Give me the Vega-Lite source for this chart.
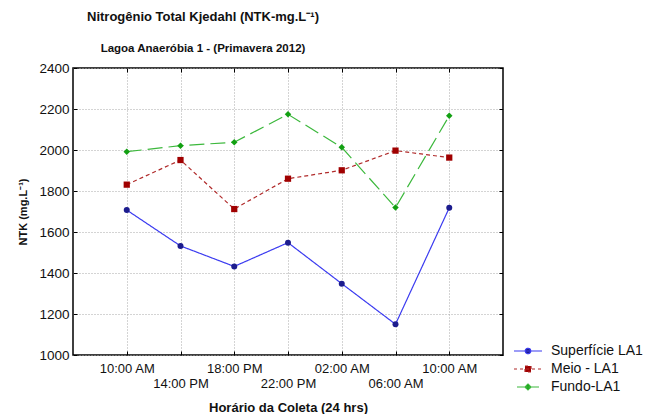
{
  "$schema": "https://vega.github.io/schema/vega-lite/v6.json",
  "width": 430,
  "height": 287,
  "autosize": {"type": "none"},
  "padding": {"left": 73, "top": 68, "right": 157, "bottom": 59},
  "background": "#ffffff",
  "config": {
    "font": "Liberation Sans",
    "view": {"stroke": "#000000", "strokeWidth": 1.5},
    "axis": {
      "labelColor": "#111111",
      "titleColor": "#111111",
      "labelFont": "Liberation Sans",
      "titleFont": "Liberation Sans",
      "gridColor": "#a8a8a8",
      "gridDash": [1, 2],
      "gridWidth": 1,
      "tickColor": "#000000",
      "domain": false
    }
  },
  "title": {
    "text": "Nitrogênio Total Kjedahl (NTK-mg.L⁻¹)",
    "subtitle": "Lagoa Anaeróbia 1 - (Primavera 2012)",
    "anchor": "middle",
    "dx": -85,
    "font": "Liberation Sans",
    "fontSize": 13,
    "fontWeight": "bold",
    "color": "#111111",
    "subtitleFont": "Liberation Sans",
    "subtitleFontSize": 11.5,
    "subtitleFontWeight": "bold",
    "subtitleColor": "#111111",
    "subtitlePadding": 19,
    "offset": 7
  },
  "data": {
    "values": [
      {"serie": "Superfície LA1", "ordem": 0, "hora": "10:00 AM", "ntk": 1707},
      {"serie": "Superfície LA1", "ordem": 1, "hora": "14:00 PM", "ntk": 1532},
      {"serie": "Superfície LA1", "ordem": 2, "hora": "18:00 PM", "ntk": 1432},
      {"serie": "Superfície LA1", "ordem": 3, "hora": "22:00 PM", "ntk": 1548},
      {"serie": "Superfície LA1", "ordem": 4, "hora": "02:00 AM", "ntk": 1348},
      {"serie": "Superfície LA1", "ordem": 5, "hora": "06:00 AM", "ntk": 1150},
      {"serie": "Superfície LA1", "ordem": 6, "hora": "10:00 AM", "ntk": 1718},
      {"serie": "Meio - LA1", "ordem": 0, "hora": "10:00 AM", "ntk": 1831},
      {"serie": "Meio - LA1", "ordem": 1, "hora": "14:00 PM", "ntk": 1951},
      {"serie": "Meio - LA1", "ordem": 2, "hora": "18:00 PM", "ntk": 1712},
      {"serie": "Meio - LA1", "ordem": 3, "hora": "22:00 PM", "ntk": 1860},
      {"serie": "Meio - LA1", "ordem": 4, "hora": "02:00 AM", "ntk": 1901},
      {"serie": "Meio - LA1", "ordem": 5, "hora": "06:00 AM", "ntk": 1997},
      {"serie": "Meio - LA1", "ordem": 6, "hora": "10:00 AM", "ntk": 1963},
      {"serie": "Fundo-LA1", "ordem": 0, "hora": "10:00 AM", "ntk": 1992},
      {"serie": "Fundo-LA1", "ordem": 1, "hora": "14:00 PM", "ntk": 2021},
      {"serie": "Fundo-LA1", "ordem": 2, "hora": "18:00 PM", "ntk": 2038},
      {"serie": "Fundo-LA1", "ordem": 3, "hora": "22:00 PM", "ntk": 2174},
      {"serie": "Fundo-LA1", "ordem": 4, "hora": "02:00 AM", "ntk": 2013},
      {"serie": "Fundo-LA1", "ordem": 5, "hora": "06:00 AM", "ntk": 1719},
      {"serie": "Fundo-LA1", "ordem": 6, "hora": "10:00 AM", "ntk": 2167}
    ]
  },
  "layer": [
    {
      "mark": {"type": "line", "strokeWidth": 1.2},
      "encoding": {
        "x": {
          "field": "ordem",
          "type": "ordinal",
          "scale": {"type": "point", "padding": 1},
          "axis": {
            "orient": "bottom",
            "title": "Horário da Coleta (24 hrs)",
            "titleFontSize": 13,
            "titleFontWeight": "bold",
            "titlePadding": 11,
            "labelAngle": 0,
            "labelFontSize": 13,
            "labelLineHeight": 15,
            "labelPadding": 11,
            "labelExpr": "+datum.value % 2 == 0 ? ['10:00 AM','14:00 PM','18:00 PM','22:00 PM','02:00 AM','06:00 AM','10:00 AM'][+datum.value] : ['', ['10:00 AM','14:00 PM','18:00 PM','22:00 PM','02:00 AM','06:00 AM','10:00 AM'][+datum.value]]",
            "grid": true,
            "ticks": true,
            "tickSize": -4
          }
        },
        "y": {
          "field": "ntk",
          "type": "quantitative",
          "scale": {"domain": [1000, 2400], "nice": false, "zero": false},
          "axis": {
            "orient": "left",
            "title": "NTK (mg.L⁻¹)",
            "titleFontSize": 11,
            "titleFontWeight": "bold",
            "titlePadding": 10,
            "values": [1000, 1200, 1400, 1600, 1800, 2000, 2200, 2400],
            "format": "d",
            "labelFontSize": 13.5,
            "labelPadding": 8,
            "grid": true,
            "ticks": true,
            "tickSize": -4
          }
        },
        "color": {
          "field": "serie",
          "type": "nominal",
          "scale": {
            "domain": ["Superfície LA1", "Meio - LA1", "Fundo-LA1"],
            "range": ["#3b3bf0", "#b02a2a", "#3cb83c"]
          },
          "legend": {
            "title": null,
            "orient": "none",
            "legendX": 448,
            "legendY": 276,
            "padding": 0,
            "labelFont": "Liberation Sans",
            "labelFontSize": 14,
            "labelColor": "#111111",
            "symbolSize": 100,
            "labelOffset": 16,
            "rowPadding": 4,
            "symbolStrokeWidth": 1.2,
            "encode": {
              "symbols": {
                "update": {
                  "shape": {"signal": "datum.value === 'Superfície LA1' ? 'M-2.8,0H2.8M0.55,0A0.55,0.55 0 1,1 -0.55,0A0.55,0.55 0 1,1 0.55,0Z' : datum.value === 'Meio - LA1' ? 'M-2.8,0H2.8M-0.6,-0.6H0.6V0.6H-0.6Z' : 'M-2.2,0H2.2M0,-0.6L0.6,0L0,0.6L-0.6,0Z'"},
                  "fill": {"signal": "datum.value === 'Superfície LA1' ? '#1c1c8e' : datum.value === 'Meio - LA1' ? '#a00000' : '#12a012'"},
                  "fillOpacity": {"value": 1},
                  "stroke": {"signal": "datum.value === 'Superfície LA1' ? '#3b3bf0' : datum.value === 'Meio - LA1' ? '#b02a2a' : '#3cb83c'"},
                  "strokeDash": {"signal": "datum.value === 'Meio - LA1' ? [3, 3] : [1, 0]"}
                }
              }
            }
          }
        },
        "strokeDash": {
          "field": "serie",
          "type": "nominal",
          "scale": {
            "domain": ["Superfície LA1", "Meio - LA1", "Fundo-LA1"],
            "range": [[1, 0], [4, 3], [15, 6]]
          },
          "legend": null
        }
      }
    },
    {
      "mark": {"type": "point", "filled": true, "opacity": 1},
      "encoding": {
        "x": {
          "field": "ordem",
          "type": "ordinal",
          "axis": {"orient": "top", "title": null, "labels": false, "grid": false, "ticks": true, "tickSize": -4}
        },
        "y": {
          "field": "ntk",
          "type": "quantitative",
          "axis": {"orient": "right", "title": null, "labels": false, "grid": false, "ticks": true, "tickSize": -4, "values": [1000, 1200, 1400, 1600, 1800, 2000, 2200, 2400]}
        },
        "color": {
          "field": "serie",
          "type": "nominal",
          "scale": {
            "domain": ["Superfície LA1", "Meio - LA1", "Fundo-LA1"],
            "range": ["#1c1c8e", "#a00000", "#12a012"]
          },
          "legend": null
        },
        "shape": {
          "field": "serie",
          "type": "nominal",
          "scale": {
            "domain": ["Superfície LA1", "Meio - LA1", "Fundo-LA1"],
            "range": ["circle", "square", "diamond"]
          },
          "legend": null
        },
        "size": {
          "field": "serie",
          "type": "nominal",
          "scale": {
            "domain": ["Superfície LA1", "Meio - LA1", "Fundo-LA1"],
            "range": [36, 42, 28]
          },
          "legend": null
        }
      }
    }
  ],
  "resolve": {
    "scale": {"color": "independent"},
    "axis": {"x": "independent", "y": "independent"}
  }
}
